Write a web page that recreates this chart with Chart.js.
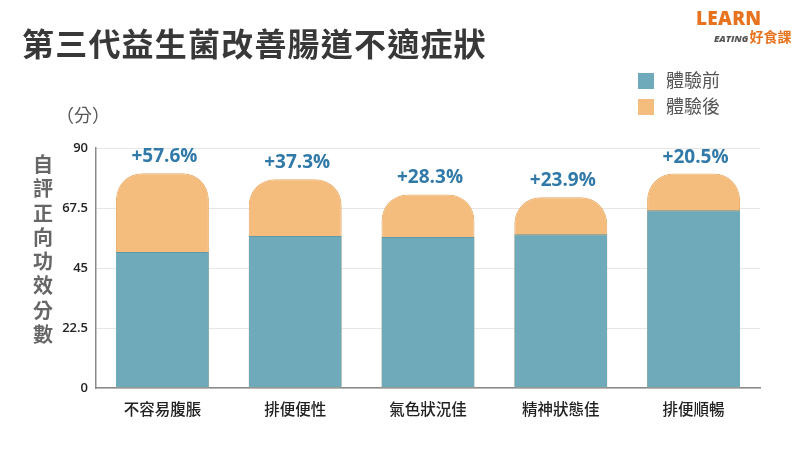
<!DOCTYPE html>
<html><head><meta charset="utf-8">
<script src="https://cdn.jsdelivr.net/npm/chart.js@4/dist/chart.umd.min.js"></script>
<style>
html,body{margin:0;padding:0;background:#fff;}
#wrap{position:relative;width:800px;height:450px;overflow:hidden;font-family:"Noto Sans CJK TC","Noto Sans",sans-serif;}
#c{position:absolute;left:0;top:0;}
.title{position:absolute;left:22px;top:22px;font-size:32px;font-weight:700;color:#383838;letter-spacing:1.2px;line-height:40px;}
.logo1{position:absolute;left:696px;top:7px;font-family:"Open Sans",sans-serif;font-weight:800;font-size:19px;color:#e8731e;letter-spacing:0.3px;line-height:22px;}
.logo2{position:absolute;left:714px;top:28px;font-size:14px;line-height:16px;color:#e8731e;font-weight:700;}
.logo2 i{font-family:"Open Sans",sans-serif;font-size:9.5px;color:#555;font-weight:800;margin-right:1px;}
.leg{position:absolute;left:638px;font-size:18px;color:#555;line-height:22px;}
.leg span{display:inline-block;width:16px;height:16px;vertical-align:-2px;margin-right:12px;}
.unit{position:absolute;left:56px;top:101px;font-size:18px;color:#555;}
.ytitle{position:absolute;left:31px;top:152px;width:24px;font-size:20px;font-weight:700;color:#666;line-height:24.3px;text-align:center;}
</style></head>
<body><div id="wrap">
<canvas id="c" width="800" height="450"></canvas>
<div class="title">第三代益生菌改善腸道不適症狀</div>
<div class="logo1">LEARN</div>
<div class="logo2"><i>EATING</i>好食課</div>
<div class="leg" style="top:68px"><span style="background:#6eaab9"></span>體驗前</div>
<div class="leg" style="top:94px"><span style="background:#f4bc7d"></span>體驗後</div>
<div class="unit">（分）</div>
<div class="ytitle">自<br>評<br>正<br>向<br>功<br>效<br>分<br>數</div>
</div>
<script>
const categories = ["不容易腹脹","排便便性","氣色狀況佳","精神狀態佳","排便順暢"];
const before = [51.0, 57.0, 56.6, 57.7, 66.7];
const after = [80.5, 78.3, 72.6, 71.5, 80.4];
const pctLabels = ["+57.6%","+37.3%","+28.3%","+23.9%","+20.5%"];
const yTicks = [0, 22.5, 45, 67.5, 90];

const pctPlugin = {
  id:'pct',
  afterDatasetsDraw(chart){
    const ctx = chart.ctx;
    const meta = chart.getDatasetMeta(1);
    ctx.save();
    ctx.font = 'bold 19px "Open Sans","Noto Sans",sans-serif';
    ctx.fillStyle = '#3079a8';
    ctx.textAlign = 'center';
    ctx.textBaseline = 'alphabetic';
    meta.data.forEach((bar,i)=>{
      ctx.fillText(pctLabels[i], bar.x + 2, bar.y - 11);
    });
    ctx.restore();
  }
};

new Chart(document.getElementById('c'), {
  type:'bar',
  data:{
    labels: categories,
    datasets:[
      {label:'體驗前', data: before, backgroundColor:'#6eaab9', borderColor:'#5f98a8', borderWidth:{top:1,left:0,right:0,bottom:0}, grouped:false, barPercentage:0.7, categoryPercentage:1},
      {label:'體驗後', data: after, backgroundColor:'#f4bc7d', borderColor:'#e9ab66', borderWidth:1, borderSkipped:'bottom', borderRadius:{topLeft:26,topRight:26,bottomLeft:0,bottomRight:0}, grouped:false, barPercentage:0.7, categoryPercentage:1}
    ]
  },
  options:{
    responsive:false, animation:false,
    layout:{padding:{left:0,right:40,top:148,bottom:0}},
    plugins:{legend:{display:false}, tooltip:{enabled:false}},
    scales:{
      x:{
        grid:{display:false, drawTicks:false},
        border:{color:'#8a8a8a', width:1.5},
        ticks:{color:'#222', font:{size:15.5, family:'"Noto Sans CJK TC",sans-serif', weight:'500'}, padding:12},
        afterFit(s){ s.height = 62; }
      },
      y:{
        min:0, max:90,
        afterBuildTicks(s){ s.ticks = yTicks.map(v=>({value:v})); },
        grid:{color:'#e6e6e6', drawTicks:false},
        border:{color:'#8a8a8a', width:1.5},
        ticks:{color:'#222', font:{size:13, family:'"Open Sans","Noto Sans",sans-serif', weight:'600'}, padding:8},
        afterFit(s){ s.width = 96; }
      }
    }
  },
  plugins:[pctPlugin]
});
</script>
</body></html>
